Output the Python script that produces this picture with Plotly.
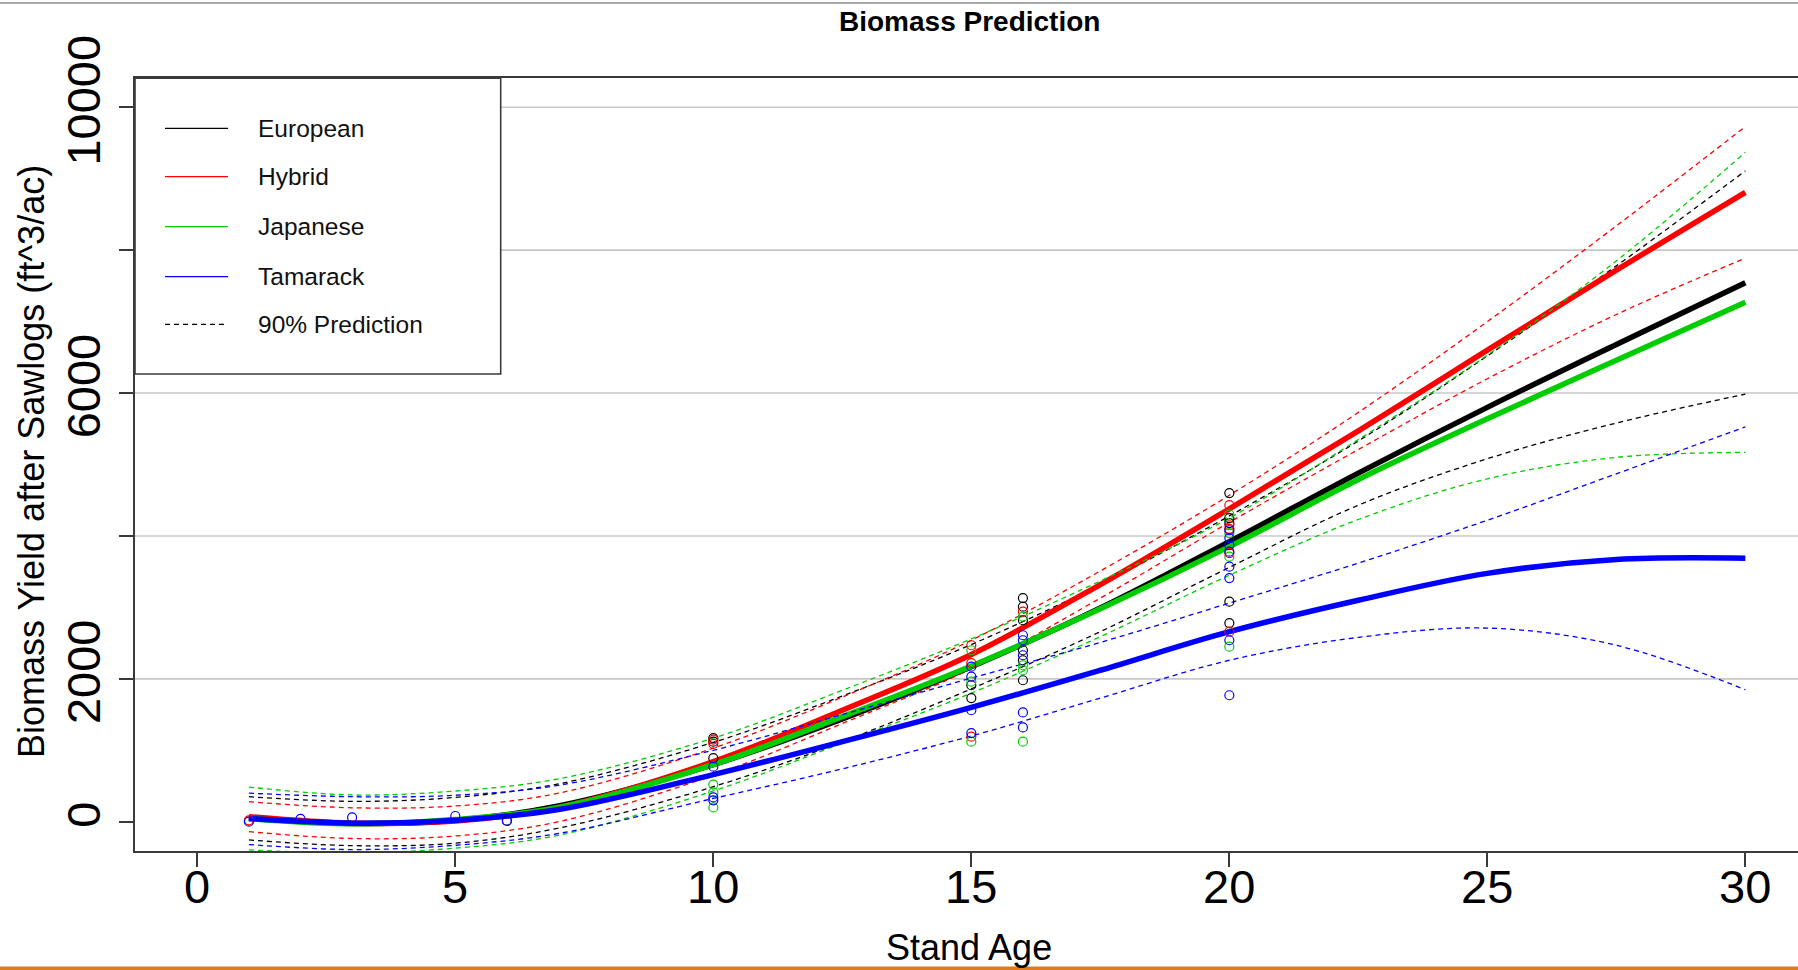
import plotly.graph_objects as go

# ---------------- data ----------------
ages = [1, 3, 5, 7, 10, 12.5, 15, 17.5, 20, 22.5, 25, 27.5, 30]

european_fit = [50, -25, 20, 220, 800, 1440, 2170, 2990, 3920, 4880, 5800, 6680, 7545]
european_upper = [350, 285, 340, 530, 1110, 1760, 2480, 3320, 4280, 5330, 6520, 7780, 9110]
european_lower = [-255, -335, -300, -90, 490, 1120, 1860, 2660, 3560, 4430, 5080, 5580, 5985]

hybrid_fit = [70, -20, 10, 200, 840, 1560, 2340, 3320, 4380, 5470, 6600, 7720, 8810]
hybrid_upper = [280, 195, 220, 400, 1030, 1745, 2540, 3510, 4570, 5730, 7000, 8340, 9730]
hybrid_lower = [-140, -235, -200, 0, 650, 1375, 2140, 3130, 4190, 5210, 6200, 7100, 7890]

japanese_fit = [45, -30, 30, 200, 800, 1470, 2180, 2980, 3850, 4790, 5640, 6460, 7270]
japanese_upper = [485, 375, 430, 600, 1170, 1840, 2560, 3370, 4250, 5350, 6530, 7850, 9370]
japanese_lower = [-395, -435, -370, -190, 430, 1100, 1800, 2590, 3450, 4230, 4800, 5100, 5170]

tamarack_fit = [45, -20, 20, 170, 660, 1120, 1600, 2120, 2660, 3100, 3476, 3670, 3687]
tamarack_upper = [400, 350, 370, 510, 1000, 1500, 2010, 2510, 3060, 3620, 4220, 4870, 5527]
tamarack_lower = [-320, -390, -330, -165, 325, 740, 1200, 1730, 2260, 2580, 2710, 2470, 1847]

european_pts_x = [6, 10, 10, 10, 15, 15, 16, 16, 16, 16, 16, 16, 20, 20, 20, 20, 20]
european_pts_y = [15, 1170, 1120, 890, 1910, 1730, 3130, 3010, 2820, 2400, 2260, 1980, 4600, 4250, 4180, 3080, 2780]

hybrid_pts_x = [1, 10, 10, 15, 15, 15, 16, 20, 20, 20, 20, 20]
hybrid_pts_y = [20, 1150, 1090, 2470, 2220, 1190, 2940, 4430, 4150, 4100, 3760, 2660]

japanese_pts_x = [10, 10, 10, 15, 15, 15, 16, 16, 16, 16, 20, 20, 20, 20]
japanese_pts_y = [520, 410, 200, 2400, 1960, 1120, 2870, 2190, 2120, 1120, 4300, 4040, 3710, 2450]

tamarack_pts_x = [1, 2, 3, 5, 6, 10, 10, 10, 15, 15, 15, 15, 16, 16, 16, 16, 16,
                  20, 20, 20, 20, 20, 20, 20, 20]
tamarack_pts_y = [0, 40, 60, 80, 10, 770, 340, 300, 2170, 2030, 1560, 1240, 2610, 2540, 2330, 1530, 1320,
                  4080, 3970, 3870, 3780, 3570, 3410, 2540, 1770]

x_ticks = [0, 5, 10, 15, 20, 25, 30]
x_ticktext = ["0", "5", "10", "15", "20", "25", "30"]
y_ticks = [0, 2000, 4000, 6000, 8000, 10000]
y_ticktext = ["0", "2000", "", "6000", "", "10000"]
grid_y = [2000, 4000, 6000, 8000, 10000]

legend_names = ["European", "Hybrid", "Japanese", "Tamarack", "90% Prediction"]

# ---------------- styling ----------------
W, H = 1798, 970
L, R, T, B = 135, 0, 78, 119
FONT = "Arial, Liberation Sans, sans-serif"
BLACK, RED, GREEN, BLUE = "#000000", "#FF0000", "#00CD00", "#0000FF"
AXC = "#3a3a3a"
DASH = "5px,4px"


def px_x(px):
    return (px - L) / (W - L - R)


def px_y(py):
    return (H - B - py) / (H - T - B)


fig = go.Figure()

species = [
    ("European", BLACK, european_fit, european_upper, european_lower),
    ("Hybrid", RED, hybrid_fit, hybrid_upper, hybrid_lower),
    ("Japanese", GREEN, japanese_fit, japanese_upper, japanese_lower),
    ("Tamarack", BLUE, tamarack_fit, tamarack_upper, tamarack_lower),
]

for name, col, fit, up, lo in species:
    for band in (up, lo):
        fig.add_trace(go.Scatter(
            x=ages, y=band, mode="lines", line_shape="spline",
            line=dict(color=col, width=1.3, dash=DASH),
            showlegend=False, hoverinfo="skip"))
    fig.add_trace(go.Scatter(
        x=ages, y=fit, mode="lines", line_shape="spline",
        line=dict(color=col, width=5.5), name=name, showlegend=False))

for xs, ys, col in [(european_pts_x, european_pts_y, BLACK),
                    (hybrid_pts_x, hybrid_pts_y, RED),
                    (japanese_pts_x, japanese_pts_y, GREEN),
                    (tamarack_pts_x, tamarack_pts_y, BLUE)]:
    fig.add_trace(go.Scatter(
        x=xs, y=ys, mode="markers",
        marker=dict(symbol="circle-open", size=9, color=col, line=dict(width=1.2, color=col)),
        showlegend=False))

shapes = []
for gy in grid_y:
    shapes.append(dict(type="line", xref="paper", yref="y", x0=0, x1=1, y0=gy, y1=gy,
                       line=dict(color="#c8c8c8", width=1.6), layer="below"))

# legend box
shapes.append(dict(type="rect", xref="paper", yref="paper",
                   x0=px_x(135), x1=px_x(500.7), y0=px_y(374), y1=px_y(78.3),
                   fillcolor="white", line=dict(color=AXC, width=1.6), layer="above"))
row_y = [128.3, 176.7, 226.7, 276.7, 324.3]
row_col = [BLACK, RED, GREEN, BLUE, BLACK]
annotations = []
for i, nm in enumerate(legend_names):
    shapes.append(dict(type="line", xref="paper", yref="paper",
                       x0=px_x(165), x1=px_x(228), y0=px_y(row_y[i]), y1=px_y(row_y[i]),
                       line=dict(color=row_col[i], width=1.3,
                                 dash=DASH if i == 4 else "solid"),
                       layer="above"))
    annotations.append(dict(xref="paper", yref="paper", x=px_x(256), y=px_y(row_y[i]),
                            text=nm, showarrow=False, xanchor="left", yanchor="middle",
                            font=dict(family=FONT, size=24.5, color="#111111")))

# x tick labels (placed closer to the axis, as in the reference)
for tv, tt in zip(x_ticks, x_ticktext):
    annotations.append(dict(xref="x", yref="paper", x=tv, y=px_y(886),
                            text=tt, showarrow=False, xanchor="center", yanchor="middle",
                            font=dict(family=FONT, size=47, color="#000000")))

# top thin gray rule and bottom orange rule of the screenshot
shapes.append(dict(type="line", xref="paper", yref="paper", x0=px_x(0), x1=px_x(W),
                   y0=px_y(3), y1=px_y(3), line=dict(color="#a8a8a8", width=2), layer="above"))
shapes.append(dict(type="rect", xref="paper", yref="paper", x0=px_x(0), x1=px_x(W),
                   y0=px_y(970), y1=px_y(966.5), fillcolor="#E07B1A", line=dict(width=0),
                   layer="above"))

annotations.append(dict(xref="paper", yref="paper", x=px_x(969), y=px_y(22),
                        text="<b>Biomass Prediction</b>", showarrow=False,
                        xanchor="center", yanchor="middle",
                        font=dict(family=FONT, size=28, color="#000000")))
annotations.append(dict(xref="paper", yref="paper", x=px_x(969), y=px_y(947),
                        text="Stand Age", showarrow=False,
                        xanchor="center", yanchor="middle",
                        font=dict(family=FONT, size=36, color="#000000")))
annotations.append(dict(xref="paper", yref="paper", x=px_x(32), y=px_y(462),
                        text="Biomass Yield after Sawlogs (ft^3/ac)", showarrow=False,
                        textangle=-90, xanchor="center", yanchor="middle",
                        font=dict(family=FONT, size=36, color="#000000")))

fig.update_layout(
    width=W, height=H,
    margin=dict(l=L, r=R, t=T, b=B, pad=0),
    paper_bgcolor="white", plot_bgcolor="white",
    showlegend=False,
    shapes=shapes, annotations=annotations,
    font=dict(family=FONT, color="#000000"),
)
fig.update_xaxes(
    range=[-1.207, 31.02], tickvals=x_ticks, ticks="outside", ticklen=14, tickwidth=1.5,
    tickcolor=AXC, showline=True, linecolor=AXC, linewidth=2, mirror=True,
    showgrid=False, zeroline=False, showticklabels=False,
)
fig.update_yaxes(
    range=[-410, 10410], tickvals=y_ticks, ticktext=y_ticktext, ticks="outside", ticklen=14,
    tickwidth=1.5, tickcolor=AXC, showline=True, linecolor=AXC, linewidth=2, mirror=False,
    showgrid=False, zeroline=False, tickangle=-90,
    tickfont=dict(family=FONT, size=47, color="#000000"),
)

fig.write_html("out.html")
